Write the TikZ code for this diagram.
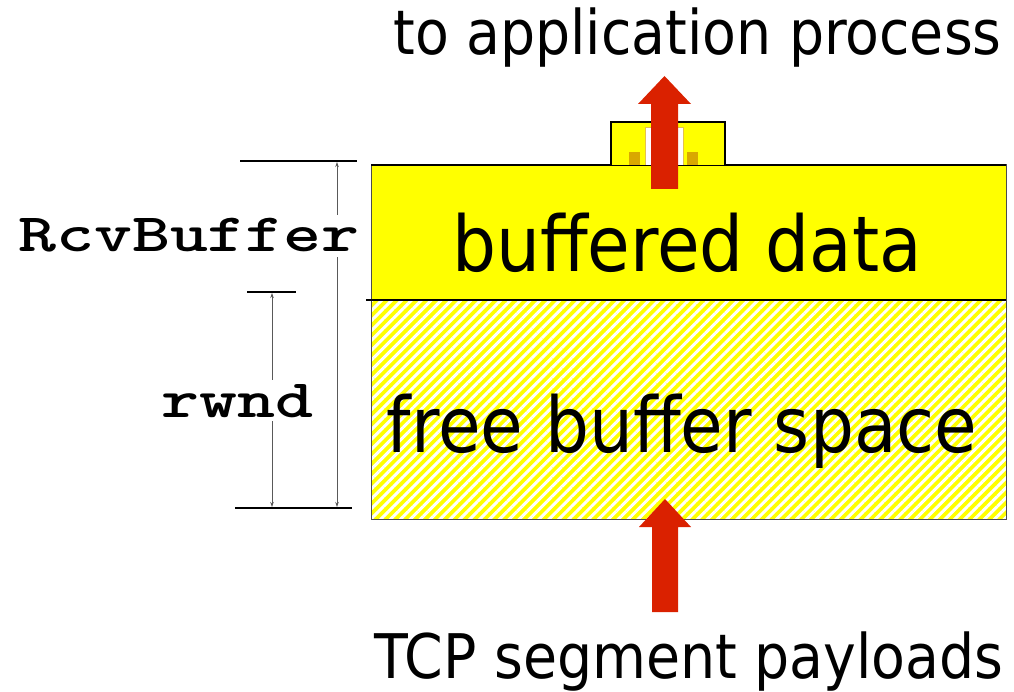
\documentclass[tikz,border=0pt]{standalone}
\usepackage{fontspec}
\newfontfamily\cond{DejaVu Sans Condensed}
\usetikzlibrary{arrows.meta,patterns.meta}
\definecolor{bufyel}{HTML}{FFFF00}
\definecolor{arrred}{HTML}{DA2100}
\definecolor{gold}{HTML}{D9A800}
\tikzset{
  bigtext/.style={font=\cond\fontsize{77}{80}\selectfont, anchor=base, inner sep=0pt},
  edgetext/.style={font=\cond\fontsize{61.5}{64}\selectfont, anchor=base, inner sep=0pt},
  dimtext/.style={font=\ttfamily\bfseries\fontsize{54}{58}\selectfont, anchor=base, fill=white, inner sep=4pt},
  dimbar/.style={line width=2.2pt, black},
  dimarrow/.style={gray!70!black, line width=0.8pt, {Stealth[length=5pt,width=3.5pt]}-{Stealth[length=5pt,width=3.5pt]}},
  redarrow/.style={fill=arrred, draw=none},
}
\begin{document}
\begin{tikzpicture}[x=1pt,y=-1pt]
\useasboundingbox (0,0) rectangle (1014,692);
% main buffer
\fill[bufyel] (371,165) rectangle (1006,300);
\fill[bufyel] (371,300) rectangle (1006,519);
\fill[pattern={Lines[angle=45,distance=7pt,line width=3pt]}, pattern color=white] (371,300) rectangle (1006,519);
\draw[gray!60!black, line width=1pt] (371,165) rectangle (1006,519);
\draw[black, line width=1.2pt] (371,165) -- (1006,165);
\coordinate (divL) at (366,300);
\coordinate (divR) at (1006,300);
\draw[black, line width=2pt] (divL) -- (divR);
% small box on top
\draw[fill=bufyel, draw=black, line width=1.2pt] (611,165) -- (611,122) -- (725,122) -- (725,165);
\fill[white, draw=gold!70, line width=1pt] (645,165) -- (645,128) -- (683,128) -- (683,165);
\fill[gold] (629,152) rectangle (640,165);
\fill[gold] (687,152) rectangle (698,165);
% red arrows
\fill[redarrow] (651,189) -- (651,104) -- (638,104) -- (664.5,76) -- (691,104) -- (678,104) -- (678,189) -- cycle;
\fill[redarrow] (652,612) -- (652,527) -- (639,527) -- (665,499) -- (691,527) -- (678,527) -- (678,612) -- cycle;
% texts
\node[edgetext] (app) at (697.5,55) {to application process};
\node[edgetext] (tcp) at (689,678) {TCP segment payloads};
\node[bigtext] (buf) at (687,272) {buffered data};
\node[bigtext] (free) at (682,452) {free buffer space};
% dimension RcvBuffer
\coordinate (rbT1) at (240,161); \coordinate (rbT2) at (357,161);
\coordinate (rbB1) at (235,508); \coordinate (rbB2) at (352,508);
\draw[dimbar] (rbT1) -- (rbT2);
\draw[dimbar] (rbB1) -- (rbB2);
\coordinate (rbA) at (337,162); \coordinate (rbZ) at (337,507);
\draw[dimarrow] (rbA) -- (rbZ);
% dimension rwnd
\coordinate (rwT1) at (247,292); \coordinate (rwT2) at (296,292);
\draw[dimbar] (rwT1) -- (rwT2);
\coordinate (rwA) at (272,293); \coordinate (rwZ) at (272,507);
\draw[dimarrow] (rwA) -- (rwZ);
\node[dimtext] (rcv) at (189,252) {\scalebox{1.34}[1]{RcvBuffer}};
\node[dimtext] (rwnd) at (237.5,417) {\scalebox{1.34}[1]{rwnd}};
\end{tikzpicture}
\end{document}
